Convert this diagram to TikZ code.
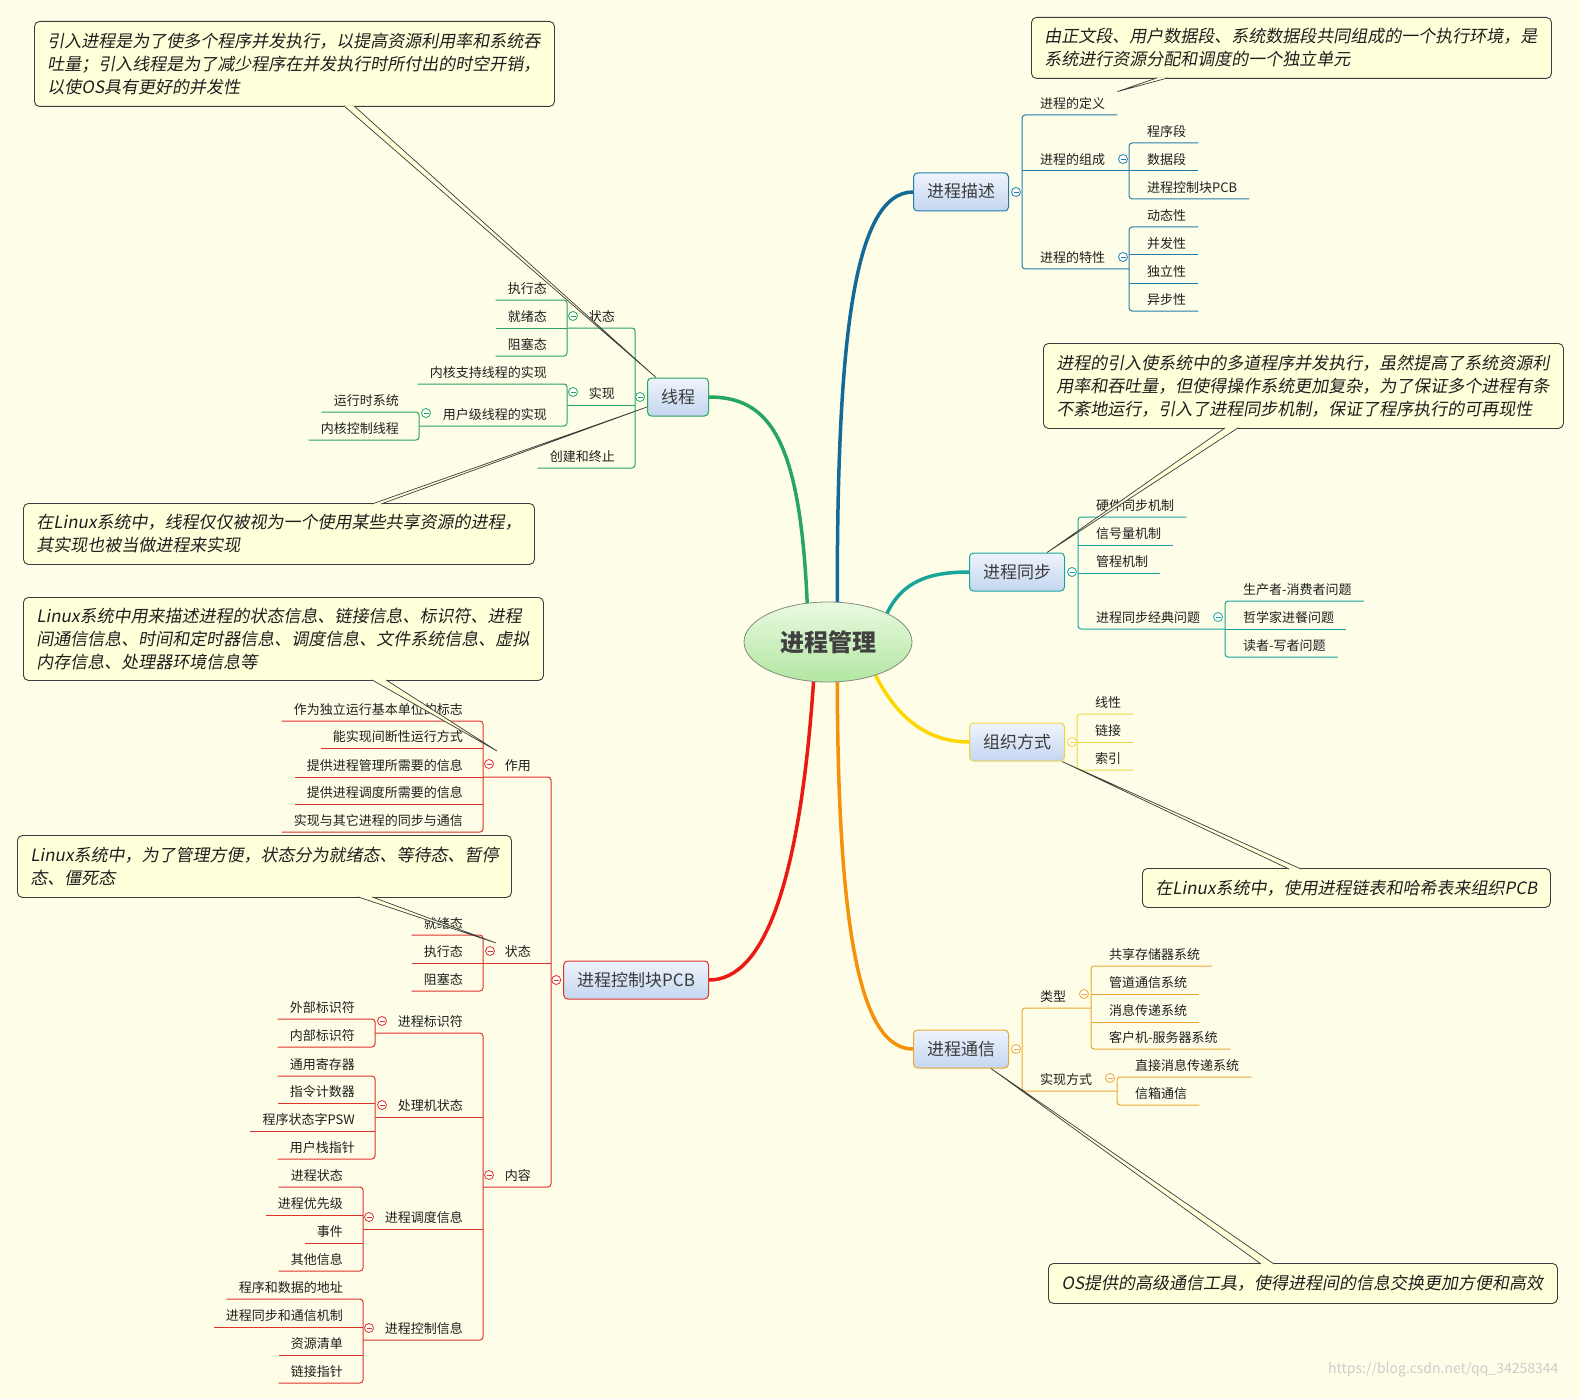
\documentclass[tikz,border=0pt]{standalone}
\usepackage{fontspec}
\setmainfont{Noto Sans CJK SC}
\newfontfamily\slantcjk{Noto Sans CJK SC}[FakeSlant=0.18]
\usetikzlibrary{shapes.geometric,backgrounds}

\definecolor{bgc}{RGB}{254,254,232}
\definecolor{descc}{RGB}{35,125,170}
\definecolor{descm}{RGB}{20,105,150}
\definecolor{thrc}{RGB}{40,165,95}
\definecolor{syncc}{RGB}{25,165,155}
\definecolor{orgc}{RGB}{240,212,70}
\definecolor{orgm}{RGB}{255,215,0}
\definecolor{commc}{RGB}{238,165,50}
\definecolor{commm}{RGB}{245,145,10}
\definecolor{pcbc}{RGB}{222,50,45}
\definecolor{pcbm}{RGB}{235,25,20}
\definecolor{leaftext}{RGB}{30,30,30}
\definecolor{topictext}{RGB}{60,60,60}
\definecolor{topictop}{RGB}{238,244,252}
\definecolor{topicbot}{RGB}{196,214,240}
\definecolor{roottop}{RGB}{234,250,224}
\definecolor{rootbot}{RGB}{178,230,162}
\definecolor{rootdraw}{RGB}{130,140,130}
\definecolor{roottext}{RGB}{64,64,64}
\definecolor{notefill}{RGB}{255,255,218}
\definecolor{notedraw}{RGB}{60,60,60}
\definecolor{marktext}{RGB}{205,205,205}

\newcommand\leaffont{\fontsize{13}{15}\selectfont}
\newcommand\topicfont{\fontsize{17}{20}\selectfont}
\newcommand\rootfont{\fontsize{24}{28}\selectfont\bfseries}
\newcommand\calloutfont{\slantcjk\fontsize{17}{23}\selectfont}

\tikzset{
  leafR/.style={anchor=south west, font=\leaffont, text=leaftext, text height=10pt,
    text depth=2pt, inner ysep=4pt, inner xsep=12pt, execute at begin node=\hspace*{6pt}},
  leafL/.style={anchor=south east, font=\leaffont, text=leaftext, text height=10pt,
    text depth=2pt, inner ysep=4pt, inner xsep=12pt, execute at end node=\hspace*{8pt}},
  topic/.style={draw=#1, line width=1pt, rounded corners=4pt, top color=topictop,
    bottom color=topicbot, minimum height=38pt, inner xsep=13.5pt, text height=15pt,
    text depth=3pt, font=\topicfont, text=topictext},
  rootnode/.style={ellipse, draw=rootdraw, line width=0.8pt, top color=roottop,
    bottom color=rootbot, minimum width=168pt, minimum height=80pt, inner sep=0pt,
    font=\rootfont, text=roottext},
  toggle/.style={circle, draw=#1, fill=white, line width=0.8pt, minimum size=9pt, inner sep=0pt,
    path picture={\draw[#1, line width=0.8pt] ([xshift=-2.5pt]path picture bounding box.center)
      -- ([xshift=2.5pt]path picture bounding box.center);}},
  bline/.style={draw=#1, line width=1pt, rounded corners=3pt},
  mainline/.style={draw=#1, line width=3.5pt, line cap=round},
  notebox/.style={draw=notedraw, fill=notefill, line width=0.9pt, rounded corners=5pt,
    anchor=north west, inner xsep=13pt, inner ysep=0pt, align=left, font=\calloutfont,
    text=leaftext},
  pointer/.style={draw=notedraw, fill=notefill, line width=0.7pt},
}

\begin{document}
\begin{tikzpicture}[x=1pt,y=-1pt]
\useasboundingbox (0,0) rectangle (1580,1399);

% centre and main topics
\node[rootnode] (root) at (828,642) {进程管理};
\node[topic=descc, anchor=west] (desc) at (913,192) {进程描述};
\node[topic=thrc, anchor=east] (thr) at (709,397) {线程};
\node[topic=syncc, anchor=west] (sync) at (969,572) {进程同步};
\node[topic=orgc, anchor=west] (org) at (969,742) {组织方式};
\node[topic=commc, anchor=west] (comm) at (913,1049) {进程通信};
\node[topic=pcbc, anchor=east] (pcb) at (709,980) {进程控制块PCB};

\begin{scope}[on background layer]
\fill[bgc] (0,0) rectangle (1580,1399);
\draw[mainline=descm] (root.77) .. controls (837,350) and (852,192) .. (desc.west);
\draw[mainline=thrc] (root.118) .. controls (800,440) and (770,397) .. (thr.east);
\draw[mainline=syncc] (root.26) .. controls (902,582) and (928,572) .. (sync.west);
\draw[mainline=orgm] (root.325) .. controls (896,716) and (926,742) .. (org.west);
\draw[mainline=commm] (root.283) .. controls (838,940) and (862,1049) .. (comm.west);
\draw[mainline=pcbm] (root.250) .. controls (800,880) and (765,980) .. (pcb.east);
\end{scope}

% 进程描述
\node[leafR] (def) at (1022,115) {进程的定义};
\node[leafR] (comp) at (1022,171) {进程的组成};
\node[leafR] (feat) at (1022,269) {进程的特性};
\node[leafR] (seg1) at (1129,143) {程序段};
\node[leafR] (seg2) at (1129,171) {数据段};
\node[leafR] (seg3) at (1129,199) {进程控制块PCB};
\node[leafR] (ft1) at (1129,227) {动态性};
\node[leafR] (ft2) at (1129,255) {并发性};
\node[leafR] (ft3) at (1129,283) {独立性};
\node[leafR] (ft4) at (1129,311) {异步性};
\draw[bline=descc] (def.south east) -- (def.south west) -- (feat.south west) -- (feat.south west -| ft1.south west);
\draw[bline=descc] (comp.south west) -- (comp.south west -| seg1.south west);
\draw[bline=descc] (seg1.south east) -- (seg1.south west) -- (seg3.south west) -- (seg3.south east);
\draw[bline=descc] (seg2.south west) -- (seg2.south east);
\draw[bline=descc] (ft1.south east) -- (ft1.south west) -- (ft4.south west) -- (ft4.south east);
\draw[bline=descc] (ft2.south west) -- (ft2.south east);
\draw[bline=descc] (ft3.south west) -- (ft3.south east);
\node[toggle=descc] (tgdesc) at ([xshift=7pt]desc.east) {};
\node[toggle=descc] (tgcomp) at (1123,159) {};
\node[toggle=descc] (tgfeat) at (1123,257) {};

% 线程
\node[leafL] (tst) at (635,328) {状态};
\node[leafL] (timp) at (635,405) {实现};
\node[leafL] (tcre) at (635,468) {创建和终止};
\node[leafL] (ts1) at (567,300) {执行态};
\node[leafL] (ts2) at (567,328) {就绪态};
\node[leafL] (ts3) at (567,356) {阻塞态};
\node[leafL] (ti1) at (567,384) {内核支持线程的实现};
\node[leafL] (ti2) at (567,426) {用户级线程的实现};
\node[leafL] (tu1) at (419,412) {运行时系统};
\node[leafL] (tu2) at (419,440) {内核控制线程};
\draw[bline=thrc] (tst.south east -| ts1.south east) -- (tst.south east) -- (tcre.south east) -- (tcre.south west);
\draw[bline=thrc] (timp.south east -| ti1.south east) -- (timp.south east);
\draw[bline=thrc] (ts1.south west) -- (ts1.south east) -- (ts3.south east) -- (ts3.south west);
\draw[bline=thrc] (ts2.south west) -- (ts2.south east);
\draw[bline=thrc] (ti1.south west) -- (ti1.south east) -- (ti2.south east) -- (ti2.south east -| tu1.south east);
\draw[bline=thrc] (tu1.south west) -- (tu1.south east) -- (tu2.south east) -- (tu2.south west);
\node[toggle=thrc] (tgthr) at ([xshift=-7pt]thr.west) {};
\node[toggle=thrc] (tgtst) at (573,316) {};
\node[toggle=thrc] (tgtimp) at (573,392) {};
\node[toggle=thrc] (tgti2) at (426,413) {};

% 进程同步
\node[leafR] (sy1) at (1078,517) {硬件同步机制};
\node[leafR] (sy2) at (1078,545) {信号量机制};
\node[leafR] (sy3) at (1078,573) {管程机制};
\node[leafR] (sy4) at (1078,629) {进程同步经典问题};
\node[leafR] (cl1) at (1225,601) {生产者-消费者问题};
\node[leafR] (cl2) at (1225,629) {哲学家进餐问题};
\node[leafR] (cl3) at (1225,657) {读者-写者问题};
\draw[bline=syncc] (sy1.south east) -- (sy1.south west) -- (sy4.south west) -- (sy4.south west -| cl1.south west);
\draw[bline=syncc] (sy2.south west) -- (sy2.south east);
\draw[bline=syncc] (sy3.south west) -- (sy3.south east);
\draw[bline=syncc] (cl1.south east) -- (cl1.south west) -- (cl3.south west) -- (cl3.south east);
\draw[bline=syncc] (cl2.south west) -- (cl2.south east);
\node[toggle=syncc] (tgsync) at ([xshift=7pt]sync.east) {};
\node[toggle=syncc] (tgsy4) at (1218,617) {};

% 组织方式
\node[leafR] (og1) at (1077,714) {线性};
\node[leafR] (og2) at (1077,742) {链接};
\node[leafR] (og3) at (1077,770) {索引};
\draw[bline=orgc] (og1.south east) -- (og1.south west) -- (og3.south west) -- (og3.south east);
\draw[bline=orgc] (og2.south west) -- (og2.south east);
\node[toggle=orgc] (tgorg) at ([xshift=7pt]org.east) {};

% 进程通信
\node[leafR] (ty) at (1022,1008) {类型};
\node[leafR] (im) at (1022,1091) {实现方式};
\node[leafR] (ty1) at (1091,966) {共享存储器系统};
\node[leafR] (ty2) at (1091,994) {管道通信系统};
\node[leafR] (ty3) at (1091,1022) {消息传递系统};
\node[leafR] (ty4) at (1091,1049) {客户机-服务器系统};
\node[leafR] (im1) at (1117,1077) {直接消息传递系统};
\node[leafR] (im2) at (1117,1105) {信箱通信};
\draw[bline=commc] (ty.south west -| ty1.south west) -- (ty.south west) -- (im.south west) -- (im.south west -| im1.south west);
\draw[bline=commc] (ty1.south east) -- (ty1.south west) -- (ty4.south west) -- (ty4.south east);
\draw[bline=commc] (ty2.south west) -- (ty2.south east);
\draw[bline=commc] (ty3.south west) -- (ty3.south east);
\draw[bline=commc] (im1.south east) -- (im1.south west) -- (im2.south west) -- (im2.south east);
\node[toggle=commc] (tgcomm) at ([xshift=7pt]comm.east) {};
\node[toggle=commc] (tgty) at (1084,994) {};
\node[toggle=commc] (tgim) at (1110,1078) {};

% 进程控制块PCB
\node[leafL] (role) at (551,777) {作用};
\node[leafL] (pst) at (551,963) {状态};
\node[leafL] (cont) at (551,1187) {内容};
\node[leafL] (r1) at (483,721) {作为独立运行基本单位的标志};
\node[leafL] (r2) at (483,748) {能实现间断性运行方式};
\node[leafL] (r3) at (483,777) {提供进程管理所需要的信息};
\node[leafL] (r4) at (483,804) {提供进程调度所需要的信息};
\node[leafL] (r5) at (483,832) {实现与其它进程的同步与通信};
\node[leafL] (ps1) at (483,935) {就绪态};
\node[leafL] (ps2) at (483,963) {执行态};
\node[leafL] (ps3) at (483,991) {阻塞态};
\node[leafL] (c1) at (483,1033) {进程标识符};
\node[leafL] (c2) at (483,1117) {处理机状态};
\node[leafL] (c3) at (483,1229) {进程调度信息};
\node[leafL] (c4) at (483,1340) {进程控制信息};
\node[leafL] (p1) at (375,1019) {外部标识符};
\node[leafL] (p2) at (375,1047) {内部标识符};
\node[leafL] (u1) at (375,1076) {通用寄存器};
\node[leafL] (u2) at (375,1103) {指令计数器};
\node[leafL] (u3) at (375,1131) {程序状态字PSW};
\node[leafL] (u4) at (375,1159) {用户栈指针};
\node[leafL] (s1) at (363,1187) {进程状态};
\node[leafL] (s2) at (363,1215) {进程优先级};
\node[leafL] (s3) at (363,1243) {事件};
\node[leafL] (s4) at (363,1271) {其他信息};
\node[leafL] (k1) at (363,1299) {程序和数据的地址};
\node[leafL] (k2) at (363,1327) {进程同步和通信机制};
\node[leafL] (k3) at (363,1355) {资源清单};
\node[leafL] (k4) at (363,1383) {链接指针};
\draw[bline=pcbc] (role.south east -| r1.south east) -- (role.south east) -- (cont.south east) -- (cont.south east -| c1.south east);
\draw[bline=pcbc] (pst.south east -| ps1.south east) -- (pst.south east);
\draw[bline=pcbc] (r1.south west) -- (r1.south east) -- (r5.south east) -- (r5.south west);
\draw[bline=pcbc] (r2.south west) -- (r2.south east);
\draw[bline=pcbc] (r3.south west) -- (r3.south east);
\draw[bline=pcbc] (r4.south west) -- (r4.south east);
\draw[bline=pcbc] (ps1.south west) -- (ps1.south east) -- (ps3.south east) -- (ps3.south west);
\draw[bline=pcbc] (ps2.south west) -- (ps2.south east);
\draw[bline=pcbc] (c1.south east -| p1.south east) -- (c1.south east) -- (c4.south east) -- (c4.south east -| k1.south east);
\draw[bline=pcbc] (c2.south east -| u1.south east) -- (c2.south east);
\draw[bline=pcbc] (c3.south east -| s1.south east) -- (c3.south east);
\draw[bline=pcbc] (p1.south west) -- (p1.south east) -- (p2.south east) -- (p2.south west);
\draw[bline=pcbc] (u1.south west) -- (u1.south east) -- (u4.south east) -- (u4.south west);
\draw[bline=pcbc] (u2.south west) -- (u2.south east);
\draw[bline=pcbc] (u3.south west) -- (u3.south east);
\draw[bline=pcbc] (s1.south west) -- (s1.south east) -- (s4.south east) -- (s4.south west);
\draw[bline=pcbc] (s2.south west) -- (s2.south east);
\draw[bline=pcbc] (s3.south west) -- (s3.south east);
\draw[bline=pcbc] (k1.south west) -- (k1.south east) -- (k4.south east) -- (k4.south west);
\draw[bline=pcbc] (k2.south west) -- (k2.south east);
\draw[bline=pcbc] (k3.south west) -- (k3.south east);
\node[toggle=pcbc] (tgpcb) at ([xshift=-7pt]pcb.west) {};
\node[toggle=pcbc] (tgrole) at (489,764) {};
\node[toggle=pcbc] (tgpst) at (490,951) {};
\node[toggle=pcbc] (tgcont) at (489,1175) {};
\node[toggle=pcbc] (tgc1) at (382,1021) {};
\node[toggle=pcbc] (tgc2) at (382,1105) {};
\node[toggle=pcbc] (tgc3) at (369,1217) {};
\node[toggle=pcbc] (tgc4) at (369,1328) {};

% notes
\node[notebox, minimum height=85pt, text width=494pt] (noteA) at (34,21)
  {引入进程是为了使多个程序并发执行，以提高资源利用率和系统吞\\吐量；引入线程是为了减少程序在并发执行时所付出的时空开销，\\以使OS具有更好的并发性};
\node[notebox, minimum height=61pt, text width=485pt] (noteB) at (23,503)
  {在Linux系统中，线程仅仅被视为一个使用某些共享资源的进程，\\其实现也被当做进程来实现};
\node[notebox, minimum height=83pt, text width=494pt] (noteC) at (23,597)
  {Linux系统中用来描述进程的状态信息、链接信息、标识符、进程\\间通信信息、时间和定时器信息、调度信息、文件系统信息、虚拟\\内存信息、处理器环境信息等};
\node[notebox, minimum height=62pt, text width=468pt] (noteD) at (17,835)
  {Linux系统中，为了管理方便，状态分为就绪态、等待态、暂停\\态、僵死态};
\node[notebox, minimum height=61pt, text width=494pt] (noteE) at (1031,17)
  {由正文段、用户数据段、系统数据段共同组成的一个执行环境，是\\系统进行资源分配和调度的一个独立单元};
\node[notebox, minimum height=85pt, text width=494pt] (noteF) at (1043,343)
  {进程的引入使系统中的多道程序并发执行，虽然提高了系统资源利\\用率和吞吐量，但使得操作系统更加复杂，为了保证多个进程有条\\不紊地运行，引入了进程同步机制，保证了程序执行的可再现性};
\node[notebox, minimum height=39pt, text width=382pt] (noteG) at (1142,868)
  {在Linux系统中，使用进程链表和哈希表来组织PCB};
\node[notebox, minimum height=40pt, text width=483pt] (noteH) at (1048,1263)
  {OS提供的高级通信工具，使得进程间的信息交换更加方便和高效};

\coordinate (tipC) at (497,751);
\coordinate (tipD) at (496,943);
\draw[pointer] ([xshift=310pt,yshift=1pt]noteA.south west) -- ([xshift=9pt]thr.north west) -- ([xshift=320pt,yshift=1pt]noteA.south west);
\draw[pointer] ([xshift=349pt,yshift=-1pt]noteB.north west) -- ([yshift=-10pt]thr.west) -- ([xshift=358pt,yshift=-1pt]noteB.north west);
\draw[pointer] ([xshift=349pt,yshift=1pt]noteC.south west) -- (tipC) -- ([xshift=363pt,yshift=1pt]noteC.south west);
\draw[pointer] ([xshift=341pt,yshift=1pt]noteD.south west) -- (tipD) -- ([xshift=355pt,yshift=1pt]noteD.south west);
\draw[pointer] ([xshift=126pt,yshift=1pt]noteE.south west) -- ([yshift=3pt]def.north east) -- ([xshift=137pt,yshift=1pt]noteE.south west);
\draw[pointer] ([xshift=182pt,yshift=1pt]noteF.south west) -- ([xshift=30pt]sync.north) -- ([xshift=195pt,yshift=1pt]noteF.south west);
\draw[pointer] ([xshift=147pt,yshift=-1pt]noteG.north west) -- ([xshift=-3pt]org.south east) -- ([xshift=159pt,yshift=-1pt]noteG.north west);
\draw[pointer] ([xshift=213pt,yshift=-1pt]noteH.north west) -- ([xshift=-18pt]comm.south east) -- ([xshift=226pt,yshift=-1pt]noteH.north west);

\node[anchor=east, font=\fontsize{14}{16}\selectfont, text=marktext] (mark) at (1562,1370) {https://blog.csdn.net/qq\_34258344};
\end{tikzpicture}
\end{document}
